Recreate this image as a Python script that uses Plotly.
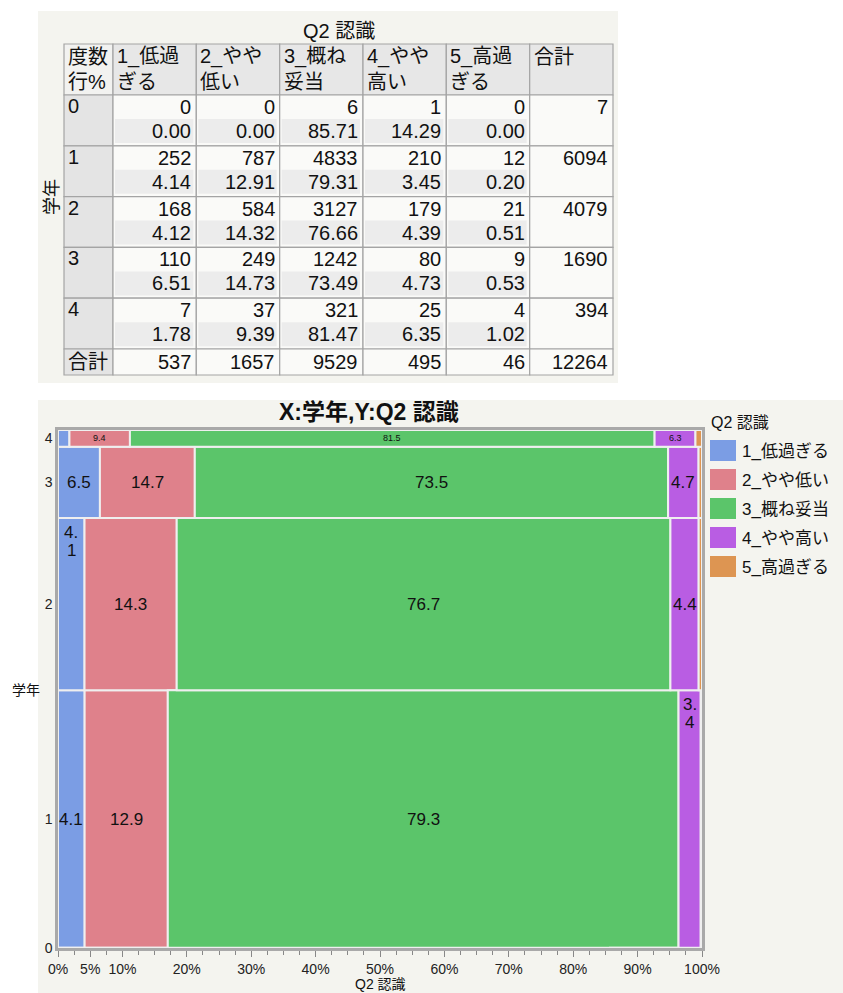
import plotly.graph_objects as go

W, H = 843, 993

# ---------------- data ----------------
grades = ["0", "1", "2", "3", "4"]
categories = ["1_低過ぎる", "2_やや低い", "3_概ね妥当", "4_やや高い", "5_高過ぎる"]
header_lines = [["1_低過", "ぎる"], ["2_やや", "低い"], ["3_概ね", "妥当"],
                ["4_やや", "高い"], ["5_高過", "ぎる"]]
counts_0 = [0, 0, 6, 1, 0]
counts_1 = [252, 787, 4833, 210, 12]
counts_2 = [168, 584, 3127, 179, 21]
counts_3 = [110, 249, 1242, 80, 9]
counts_4 = [7, 37, 321, 25, 4]
x_tick_values = [0, 5, 10, 20, 30, 40, 50, 60, 70, 80, 90, 100]
x_tick_labels = [f"{v}%" for v in x_tick_values]
total_label = "合計"
corner_labels = ["度数", "行%"]
table_title = "Q2 認識"
row_var = "学年"
mosaic_title = "X:学年,Y:Q2 認識"

counts = [counts_0, counts_1, counts_2, counts_3, counts_4]
row_totals = [sum(r) for r in counts]
col_totals = [sum(r[j] for r in counts) for j in range(len(categories))]
grand_total = sum(row_totals)
row_pcts = [[100.0 * c / t for c in r] for r, t in zip(counts, row_totals)]

# ---------------- style ----------------
colors = ["#7B9DE4", "#DF818B", "#5BC56A", "#B95DE3", "#DD9552"]
FONT = "Liberation Sans, Arial, Noto Sans CJK JP, sans-serif"
PANEL = "#f4f4ef"
GRID = "#a4a4a4"
TF = 20  # table font size
wrapped_cells = {(1, 3), (2, 0)}   # (row, category) labels drawn wrapped at top


def px(x):
    return x / W


def py(y):
    return 1 - y / H


shapes = []
annotations = []


def rect(x0, y0, x1, y1, fill, line=None, lw=0, layer="above"):
    shapes.append(dict(type="rect", xref="paper", yref="paper",
                       x0=px(x0), x1=px(x1), y0=py(y1), y1=py(y0),
                       fillcolor=fill, layer=layer,
                       line=dict(color=line or fill, width=lw)))


def text(x, y, s, size=TF, xanchor="left", yanchor="middle", color="#111",
         angle=0):
    annotations.append(dict(xref="paper", yref="paper", x=px(x), y=py(y),
                            text=s, showarrow=False, xanchor=xanchor,
                            yanchor=yanchor, textangle=angle,
                            font=dict(family=FONT, size=size, color=color)))


# panel backgrounds
rect(38, 11, 618, 383, PANEL, layer="below")
rect(38, 400, 843, 993, PANEL, layer="below")

# ---------------- contingency table ----------------
col_x = [64, 113, 196.3, 279.7, 363, 446.3, 529.7, 613]
hdr_top, hdr_bot = 44, 95
row_h = 50.8
row_tops = [hdr_bot + i * row_h for i in range(len(grades))]
tot_top = hdr_bot + len(grades) * row_h
tot_bot = tot_top + 26

text((col_x[0] + col_x[-1]) / 2, 31, table_title, xanchor="center")
text(52, 197, row_var, size=18, xanchor="center", angle=-90)

# header row
rect(col_x[0], hdr_top, col_x[1], hdr_bot, "#f2f2f0", GRID, 1.2)
text(col_x[0] + 2, 57, corner_labels[0])
text(col_x[0] + 2, 82, corner_labels[1])
for j in range(len(categories)):
    rect(col_x[j + 1], hdr_top, col_x[j + 2], hdr_bot, "#e7e7e7", GRID, 1.2)
    text(col_x[j + 1] + 2, 57, header_lines[j][0])
    text(col_x[j + 1] + 2, 82, header_lines[j][1])
rect(col_x[-2], hdr_top, col_x[-1], hdr_bot, "#e7e7e7", GRID, 1.2)
text(col_x[-2] + 2, 57, total_label)

# data rows
for i, g in enumerate(grades):
    top = row_tops[i]
    bot = top + row_h
    rect(col_x[0], top, col_x[1], bot, "#e4e4e4", GRID, 1.2)
    text(col_x[0] + 2, top + 11, g)
    for j in range(len(categories)):
        l, r = col_x[j + 1], col_x[j + 2]
        rect(l, top, r, bot, "#fafaf8", GRID, 1.2)
        rect(l + 2, top + 24, r - 3, top + 48, "#ececec")
        text(r - 3, top + 12, f"{counts[i][j]}", xanchor="right")
        text(r - 3, top + 36, f"{row_pcts[i][j]:.2f}", xanchor="right")
    rect(col_x[-2], top, col_x[-1], bot, "#fafaf8", GRID, 1.2)
    text(col_x[-1] - 3, top + 12, f"{row_totals[i]}", xanchor="right")

# total row
rect(col_x[0], tot_top, col_x[1], tot_bot, "#e4e4e4", GRID, 1.2)
text(col_x[0] + 2, tot_top + 13, total_label)
for j in range(len(categories)):
    rect(col_x[j + 1], tot_top, col_x[j + 2], tot_bot, "#fafaf8", GRID, 1.2)
    text(col_x[j + 2] - 3, tot_top + 13, f"{col_totals[j]}", xanchor="right")
rect(col_x[-2], tot_top, col_x[-1], tot_bot, "#fafaf8", GRID, 1.2)
text(col_x[-1] - 3, tot_top + 13, f"{grand_total}", xanchor="right")

# ---------------- mosaic plot ----------------
PX0, PX1, PY0, PY1 = 58, 702, 430, 948
row_bottoms = []
acc = 0
for t in row_totals:
    row_bottoms.append(acc)
    acc += t
row_centers = [b + t / 2 for b, t in zip(row_bottoms, row_totals)]

fig = go.Figure()
for j, cat in enumerate(categories):
    xs = [row_pcts[i][j] for i in range(len(grades))]
    bases = [sum(row_pcts[i][:j]) for i in range(len(grades))]
    fig.add_trace(go.Bar(
        orientation="h", name=cat, y=row_centers, x=xs, base=bases,
        width=row_totals, marker=dict(color=colors[j],
                                      line=dict(color="#efefef", width=2)),
        showlegend=False, hoverinfo="skip"))

plot_h = PY1 - PY0
plot_w = PX1 - PX0
for i in range(len(grades)):
    rh_px = row_totals[i] / grand_total * plot_h
    size = 9 if rh_px < 25 else 17
    for j in range(len(categories)):
        pct = row_pcts[i][j]
        w_px = pct / 100 * plot_w
        if w_px < 18 or rh_px < 8:
            continue
        xc = sum(row_pcts[i][:j]) + pct / 2
        lab = f"{pct:.1f}"
        if (i, j) in wrapped_cells:
            a, b = lab.split(".")
            for k, part in enumerate([a + ".", b]):
                annotations.append(dict(
                    x=xc, y=row_bottoms[i] + row_totals[i], xref="x",
                    yref="y", text=part, showarrow=False, yanchor="middle",
                    xanchor="center", yshift=-14 - 18 * k,
                    font=dict(family=FONT, size=size, color="#111")))
        else:
            annotations.append(dict(
                x=xc, y=row_centers[i], xref="x", yref="y", text=lab,
                showarrow=False, font=dict(family=FONT, size=size,
                                           color="#111")))

text(369, 412, f"<b>{mosaic_title}</b>", size=23, xanchor="center")
text(380, 984, table_title, size=14, xanchor="center")
text(26, 690, row_var, size=14, xanchor="center")

# legend
text(709, 422, table_title, size=16)
for j, cat in enumerate(categories):
    y0 = 440 + j * 29
    rect(710, y0, 736, y0 + 21, colors[j])
    text(740, y0 + 11, cat, size=17)

fig.update_layout(
    width=W, height=H, autosize=False,
    margin=dict(l=0, r=0, t=0, b=0, pad=0, autoexpand=False),
    paper_bgcolor="white", plot_bgcolor="rgba(0,0,0,0)",
    barmode="overlay", shapes=shapes, annotations=annotations,
    showlegend=False,
    xaxis=dict(domain=[px(PX0), px(PX1)], range=[0, 100], automargin=False,
               tickvals=x_tick_values, ticktext=x_tick_labels,
               ticks="outside", ticklen=6, tickcolor="#888",
               minor=dict(dtick=2.5, tick0=0, ticks="outside", ticklen=4,
                          tickcolor="#888"),
               showgrid=False, zeroline=False, showline=True, mirror=True,
               linecolor="#a9a9a9", linewidth=2.5,
               tickfont=dict(family=FONT, size=14, color="#222")),
    yaxis=dict(domain=[py(PY1), py(PY0)], range=[0, grand_total],
               automargin=False,
               tickvals=row_centers, ticktext=grades, ticks="",
               showgrid=False, zeroline=False, showline=True, mirror=True,
               linecolor="#a9a9a9", linewidth=2.5,
               tickfont=dict(family=FONT, size=14, color="#222")),
)

fig.write_html(
    "out.html",
    config={"displayModeBar": False},
    post_script="document.body.style.margin='0';"
                "document.body.style.overflow='hidden';")
